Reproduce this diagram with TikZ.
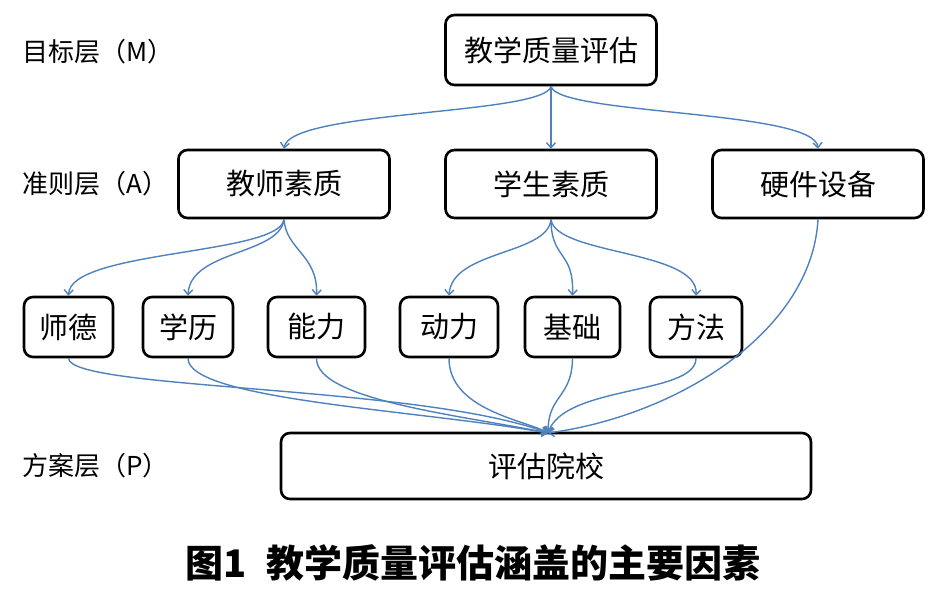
\documentclass[tikz,border=0pt]{standalone}
\usepackage{fontspec}
\setmainfont{Noto Sans CJK SC}
\usetikzlibrary{arrows.meta}
\definecolor{linkblue}{RGB}{79,129,189}
\begin{document}
\begin{tikzpicture}[x=1pt,y=-1pt,
  box/.style={draw=black,line width=2.6pt,rounded corners=9pt,inner sep=0pt,font=\fontsize{29}{30}\selectfont},
  lvl/.style={anchor=west,inner sep=0pt,font=\fontsize{26}{28}\selectfont},
  link/.style={draw=linkblue,line width=1.4pt,-{Straight Barb[length=5pt,width=9pt]}}]
\useasboundingbox (0,0) rectangle (928,592);
% nodes
\node[box,minimum width=211pt,minimum height=70pt] (M) at (551,50) {教学质量评估};
\node[box,minimum width=211pt,minimum height=68pt] (A1) at (284,184) {教师素质};
\node[box,minimum width=211pt,minimum height=68pt] (A2) at (551,184) {学生素质};
\node[box,minimum width=211pt,minimum height=68pt] (A3) at (818,184) {硬件设备};
\node[box,minimum width=89pt,minimum height=60pt] (B1) at (68.5,327) {师德};
\node[box,minimum width=90pt,minimum height=60pt] (B2) at (188,327) {学历};
\node[box,minimum width=97pt,minimum height=60pt] (B3) at (316.5,327) {能力};
\node[box,minimum width=98pt,minimum height=60pt] (B4) at (449,327) {动力};
\node[box,minimum width=95pt,minimum height=60pt] (B5) at (572.5,327) {基础};
\node[box,minimum width=92pt,minimum height=60pt] (B6) at (696,327) {方法};
\node[box,minimum width=530pt,minimum height=66pt] (P) at (546,466) {评估院校};
% level labels
\node[lvl] (LM) at (22,52) {目标层（M）};
\node[lvl] (LA) at (22,184) {准则层（A）};
\node[lvl] (LP) at (22,466) {方案层（P）};
% caption
\node[inner sep=0pt,font=\fontsize{38}{40}\selectfont\bfseries] (cap) at (473,563) {图1\hspace{0.5em}教学质量评估涵盖的主要因素};
% target-to-criteria
\coordinate (Pt) at (548,433);
\draw[link] (M.south) .. controls (545,115) and (290,110) .. (A1.north);
\draw[link] (M.south) -- (A2.north);
\draw[link] (M.south) .. controls (557,115) and (815,110) .. (A3.north);
% teacher
\draw[link] (A1.south) .. controls (280,255) and (70,250) .. (B1.north);
\draw[link] (A1.south) .. controls (280,255) and (190,250) .. (B2.north);
\draw[link] (A1.south) .. controls (286,250) and (318,255) .. (B3.north);
% student
\draw[link] (A2.south) .. controls (548,255) and (452,250) .. (B4.north);
\draw[link] (A2.south) .. controls (551,260) and (574,250) .. (B5.north);
\draw[link] (A2.south) .. controls (555,255) and (699,250) .. (B6.north);
% to scheme
\draw[link] (B1.south) .. controls (70,390) and (420,385) .. (Pt);
\draw[link] (B2.south) .. controls (188,400) and (420,410) .. (Pt);
\draw[link] (B3.south) .. controls (316,400) and (460,415) .. (Pt);
\draw[link] (B4.south) .. controls (449,410) and (525,420) .. (Pt);
\draw[link] (B5.south) .. controls (572,398) and (548,395) .. (Pt);
\draw[link] (B6.south) .. controls (696,395) and (565,385) .. (Pt);
\draw[link] (A3.south) .. controls (812,330) and (680,415) .. (Pt);
\end{tikzpicture}
\end{document}
